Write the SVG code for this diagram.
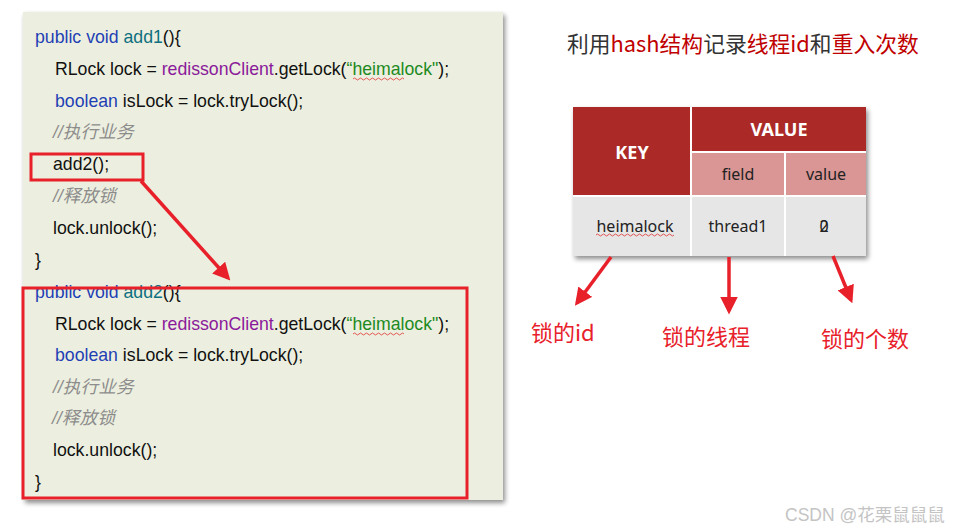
<svg xmlns="http://www.w3.org/2000/svg" width="954" height="532" viewBox="0 0 954 532">
<defs>
<style>
.code{font-family:"Liberation Sans",Arial,"Noto Sans CJK SC",sans-serif;font-size:17.7px;fill:#111}
.kw{fill:#1F3FB5}
.fn{fill:#0E7080}
.pu{fill:#8B1A9B}
.st{fill:#1E8A1E}
.cm{fill:#8C8C8C;font-style:italic}
.red{fill:none;stroke:#E8202A;stroke-width:3}
.arr{stroke:#E8202A;stroke-width:3.5;fill:none}
.lbl{font-family:"Noto Sans CJK SC","Noto Sans",sans-serif;font-size:22px;fill:#E8202A}
.tb{font-family:"Noto Sans","Liberation Sans","Noto Sans CJK SC",sans-serif;font-size:16px;fill:#222;text-anchor:middle}
.th{font-family:"Noto Sans","Liberation Sans",sans-serif;font-size:18px;font-weight:bold;fill:#fff;text-anchor:middle}
</style>
<marker id="ah" viewBox="0 0 10 10" refX="8" refY="5" markerWidth="5" markerHeight="5" orient="auto" markerUnits="strokeWidth">
<path d="M0,0 L10,5 L0,10 z" fill="#E8202A"/>
</marker>
<filter id="sh" x="-5%" y="-5%" width="115%" height="115%">
<feGaussianBlur in="SourceAlpha" stdDeviation="2.5"/>
<feOffset dx="2" dy="3" result="b"/>
<feComponentTransfer><feFuncA type="linear" slope="0.45"/></feComponentTransfer>
<feMerge><feMergeNode/><feMergeNode in="SourceGraphic"/></feMerge>
</filter>
</defs>
<rect width="954" height="532" fill="#fff"/>

<g id="code-panel">
<rect x="23" y="12" width="480" height="488" fill="#ECEFDF" filter="url(#sh)"/>
<text class="code" x="35" y="43"><tspan class="kw">public void </tspan><tspan class="fn">add1</tspan>(){</text>
<text class="code" x="55" y="75">RLock lock = <tspan class="pu">redissonClient</tspan>.getLock(<tspan class="st">“heimalock"</tspan>);</text>
<path d="M353,79 q1.5,-2 3,0 t3,0 t3,0 t3,0 t3,0 t3,0 t3,0 t3,0 t3,0 t3,0 t3,0 t3,0 t3,0 t3,0 t3,0 t3,0 t3,0" fill="none" stroke="#E03030" stroke-width="0.8"/>
<text class="code" x="55" y="107"><tspan class="kw">boolean</tspan> isLock = lock.tryLock();</text>
<text class="code cm" x="53" y="138">//执行业务</text>
<text class="code" x="53" y="170">add2();</text>
<text class="code cm" x="53" y="202">//释放锁</text>
<text class="code" x="53" y="234">lock.unlock();</text>
<text class="code" x="35" y="266">}</text>
<text class="code" x="35" y="298"><tspan class="kw">public void </tspan><tspan class="fn">add2</tspan>(){</text>
<text class="code" x="55" y="330">RLock lock = <tspan class="pu">redissonClient</tspan>.getLock(<tspan class="st">“heimalock"</tspan>);</text>
<path d="M353,334 q1.5,-2 3,0 t3,0 t3,0 t3,0 t3,0 t3,0 t3,0 t3,0 t3,0 t3,0 t3,0 t3,0 t3,0 t3,0 t3,0 t3,0 t3,0" fill="none" stroke="#E03030" stroke-width="0.8"/>
<text class="code" x="55" y="361"><tspan class="kw">boolean</tspan> isLock = lock.tryLock();</text>
<text class="code cm" x="53" y="393">//执行业务</text>
<text class="code cm" x="52" y="424">//释放锁</text>
<text class="code" x="53" y="456">lock.unlock();</text>
<text class="code" x="35" y="488">}</text>
</g>

<g id="highlight-add2-call">
<rect class="red" x="31" y="154" width="112" height="26"/>
</g>
<g id="highlight-add2-method">
<rect class="red" x="23" y="288" width="444" height="210"/>
</g>

<g id="title">
<text x="567" y="52" style="font-family:'Noto Sans CJK SC','Noto Sans',sans-serif;font-size:21.8px;fill:#333">利用<tspan fill="#C00000">hash结构</tspan>记录<tspan fill="#C00000">线程id</tspan>和<tspan fill="#C00000">重入次数</tspan></text>
</g>

<g id="hash-table">
<g filter="url(#sh)">
<rect x="573" y="107" width="293" height="149" fill="#fff"/>
</g>
<rect x="573" y="107" width="117" height="88" fill="#AB2A27"/>
<rect x="692" y="107" width="174" height="44" fill="#AB2A27"/>
<rect x="692" y="153" width="92" height="42" fill="#D99694"/>
<rect x="786" y="153" width="80" height="42" fill="#D99694"/>
<rect x="573" y="197" width="117" height="59" fill="#E6E6E6"/>
<rect x="692" y="197" width="92" height="59" fill="#E6E6E6"/>
<rect x="786" y="197" width="80" height="59" fill="#E6E6E6"/>
<text class="th" x="632" y="159">KEY</text>
<text class="th" x="779" y="136">VALUE</text>
<text class="tb" x="738" y="180">field</text>
<text class="tb" x="826" y="180">value</text>
<text class="tb" x="635" y="232">heimalock</text>
<path d="M596,235 q1.5,-2 3,0 t3,0 t3,0 t3,0 t3,0 t3,0 t3,0 t3,0 t3,0 t3,0 t3,0 t3,0 t3,0 t3,0 t3,0 t3,0 t3,0 t3,0 t3,0 t3,0 t3,0 t3,0 t3,0 t3,0 t3,0 t3,0" fill="none" stroke="#E03030" stroke-width="0.8"/>
<text class="tb" x="738" y="232">thread1</text>
<text class="tb" x="824" y="232">0</text>
<text class="tb" x="824" y="232">2</text>
</g>

<g id="connectors">
<line class="arr" x1="141" y1="181" x2="228" y2="278" marker-end="url(#ah)"/>
<line class="arr" x1="611" y1="257" x2="577" y2="303" marker-end="url(#ah)"/>
<line class="arr" x1="729" y1="257" x2="729" y2="311" marker-end="url(#ah)"/>
<line class="arr" x1="833" y1="256" x2="851" y2="300" marker-end="url(#ah)"/>
</g>

<g id="label-id"><text class="lbl" x="531" y="341">锁的id</text></g>
<g id="label-thread"><text class="lbl" x="662" y="345">锁的线程</text></g>
<g id="label-count"><text class="lbl" x="821" y="347">锁的个数</text></g>

<g id="watermark">
<text x="785" y="521" style="font-family:'Liberation Sans','Noto Sans CJK SC',sans-serif;font-size:17.5px;fill:#C4C4C4">CSDN @花栗鼠鼠鼠</text>
</g>
</svg>
